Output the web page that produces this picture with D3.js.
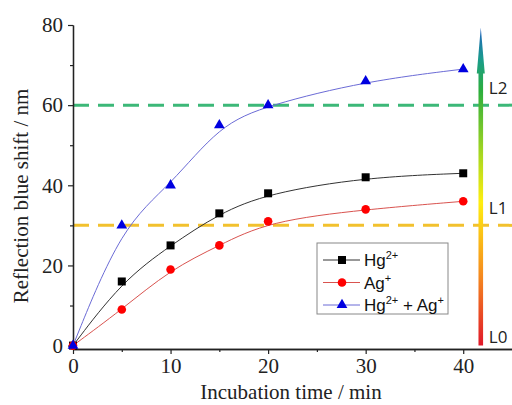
<!DOCTYPE html>
<html>
<head>
<meta charset="utf-8">
<script src="https://cdn.jsdelivr.net/npm/d3@7"></script>
<style>
  body { margin: 0; background: #fff; }
  svg { display: block; }
</style>
</head>
<body>
<div id="chart"></div>
<script>
// Reflection blue shift vs incubation time, B-spline style fits

const times = [0, 5, 10, 15, 20, 30, 40];
const hgShift = [0, 16, 25, 33, 38, 42, 43];
const agShift = [0, 9, 19, 25, 31, 34, 36];
const mixShift = [0, 30, 40, 55, 60, 66, 69];

const levels = [
    { name: "L0", value: 0 },
    { name: "L1", value: 30, color: "#f2c12e" },
    { name: "L2", value: 60, color: "#3cb878" }
];
const xTicks = [0, 10, 20, 30, 40];
const yTicks = [0, 20, 40, 60, 80];
const arrowTime = 41.8;
const arrowTop = 79.4;

const width = 512;
const height = 405;

const svg = d3.select("#chart")
    .append("svg")
    .attr("width", width)
    .attr("height", height);

const x = d3.scaleLinear().domain([0, 45]).range([73, 512]);
const y = d3.scaleLinear().domain([-0.85, 80]).range([349, 25]);

const series = [
    { label: ["Hg", "2+"], values: hgShift, line: "#333", fill: "#000", shape: d3.symbolSquare, size: 64 },
    { label: ["Ag", "+"], values: agShift, line: "#d9534f", fill: "#f00", shape: d3.symbolCircle, size: 58 },
    { label: ["Hg", "2+", " + Ag", "+"], values: mixShift, line: "#6b6bd6", fill: "#0000e0", shape: d3.symbolTriangle, size: 50 }
];

// dashed level lines
svg.selectAll(".level")
    .data(levels.filter(d => d.color))
    .enter().append("line")
    .attr("x1", x(0))
    .attr("x2", width)
    .attr("y1", d => y(d.value))
    .attr("y2", d => y(d.value))
    .attr("stroke", d => d.color)
    .attr("stroke-width", 3)
    .attr("stroke-dasharray", "16,9");

// axes
const xAxis = d3.axisBottom(x).tickValues(xTicks).tickSize(5).tickPadding(4).tickSizeOuter(0);
const xMinor = d3.axisBottom(x).tickValues([5, 15, 25, 35]).tickSize(3).tickFormat("").tickSizeOuter(0);
const yAxis = d3.axisLeft(y).tickValues(yTicks).tickSize(5).tickPadding(5).tickSizeOuter(0);
const yMinor = d3.axisLeft(y).tickValues([10, 30, 50, 70]).tickSize(3).tickFormat("").tickSizeOuter(0);

[[xAxis, "x"], [xMinor, "x"], [yAxis, "y"], [yMinor, "y"]].forEach(([ax, dir]) => {
    const g = svg.append("g")
        .attr("transform", dir === "x" ? `translate(0,${y.range()[0]})` : `translate(${x(0)},0)`)
        .call(ax);
    g.select(".domain").attr("stroke", "#222").attr("stroke-width", 1.3);
    g.selectAll(".tick line").attr("stroke", "#222").attr("stroke-width", 1.2);
    g.selectAll(".tick text")
        .attr("font-family", "'Liberation Serif', 'Times New Roman', serif")
        .attr("font-size", "21px")
        .attr("fill", "#222");
});

// fitted curves
const line = d3.line()
    .x((d, i) => x(times[i]))
    .y(d => y(d))
    .curve(d3.curveBasis);

series.forEach(s => {
    svg.append("path")
        .attr("d", line(s.values))
        .attr("fill", "none")
        .attr("stroke", s.line)
        .attr("stroke-width", 1);
});

series.forEach(s => {
    svg.selectAll(null)
        .data(s.values)
        .enter().append("path")
        .attr("d", d3.symbol().type(s.shape).size(s.size))
        .attr("transform", (d, i) => `translate(${x(times[i])},${y(d)})`)
        .attr("fill", s.fill);
});

// colour arrow
const defs = svg.append("defs");
const grad = defs.append("linearGradient")
    .attr("id", "arrowGrad")
    .attr("gradientUnits", "userSpaceOnUse")
    .attr("x1", 0).attr("x2", 0)
    .attr("y1", y(0)).attr("y2", y(arrowTop));
[
    [0, "#e0182a"], [0.22, "#f58a1f"], [0.45, "#ffee10"],
    [0.6, "#a8d820"], [0.8, "#2cae3c"], [0.9, "#1a9c8c"], [1, "#2060c0"]
].forEach(([o, c]) => grad.append("stop").attr("offset", o).attr("stop-color", c));

const ax = x(arrowTime);
const shaftW = 2.3;
const headW = 4;
const headBase = y(arrowTop) + 46;
svg.append("path")
    .attr("d", `M${ax - shaftW},${y(0)} L${ax - shaftW},${headBase} L${ax - headW},${headBase}
        L${ax},${y(arrowTop)} L${ax + headW},${headBase} L${ax + shaftW},${headBase} L${ax + shaftW},${y(0)} Z`)
    .attr("fill", "url(#arrowGrad)");

svg.selectAll(".lvlText")
    .data(levels)
    .enter().append("text")
    .attr("x", ax + 8)
    .attr("y", d => y(d.value) - (d.value === 0 ? 3 : 11))
    .attr("font-family", "'Open Sans', 'Noto Sans', sans-serif")
    .attr("font-size", "17px")
    .attr("fill", "#222")
    .text(d => d.name);

// axis titles
svg.append("text")
    .attr("x", 291)
    .attr("y", 399)
    .attr("text-anchor", "middle")
    .attr("font-family", "'Liberation Serif', 'Times New Roman', serif")
    .attr("font-size", "21px")
    .attr("fill", "#222")
    .text("Incubation time / min");

svg.append("text")
    .attr("transform", "translate(28,196) rotate(-90)")
    .attr("text-anchor", "middle")
    .attr("font-family", "'Liberation Serif', 'Times New Roman', serif")
    .attr("font-size", "21px")
    .attr("fill", "#222")
    .text("Reflection blue shift / nm");

// legend
const legend = svg.append("g").attr("transform", "translate(317,243)");
legend.append("rect")
    .attr("width", 131)
    .attr("height", 71)
    .attr("fill", "#fff")
    .attr("stroke", "#888")
    .attr("stroke-width", 1);

series.forEach((s, i) => {
    const ly = 17 + i * 22.5;
    legend.append("line")
        .attr("x1", 6).attr("x2", 43)
        .attr("y1", ly).attr("y2", ly)
        .attr("stroke", s.line)
        .attr("stroke-width", 1);
    legend.append("path")
        .attr("d", d3.symbol().type(s.shape).size(s.size))
        .attr("transform", `translate(25,${ly})`)
        .attr("fill", s.fill);
    const t = legend.append("text")
        .attr("x", 47)
        .attr("y", ly + 6)
        .attr("font-family", "'Liberation Sans', Arial, sans-serif")
        .attr("font-size", "17px")
        .attr("fill", "#111");
    s.label.forEach((part, j) => {
        const sup = j % 2 === 1;
        t.append("tspan")
            .attr("font-size", sup ? "11px" : "17px")
            .attr("dy", sup ? -7 : (j > 0 ? 7 : 0))
            .text(part);
    });
});
</script>
</body>
</html>
